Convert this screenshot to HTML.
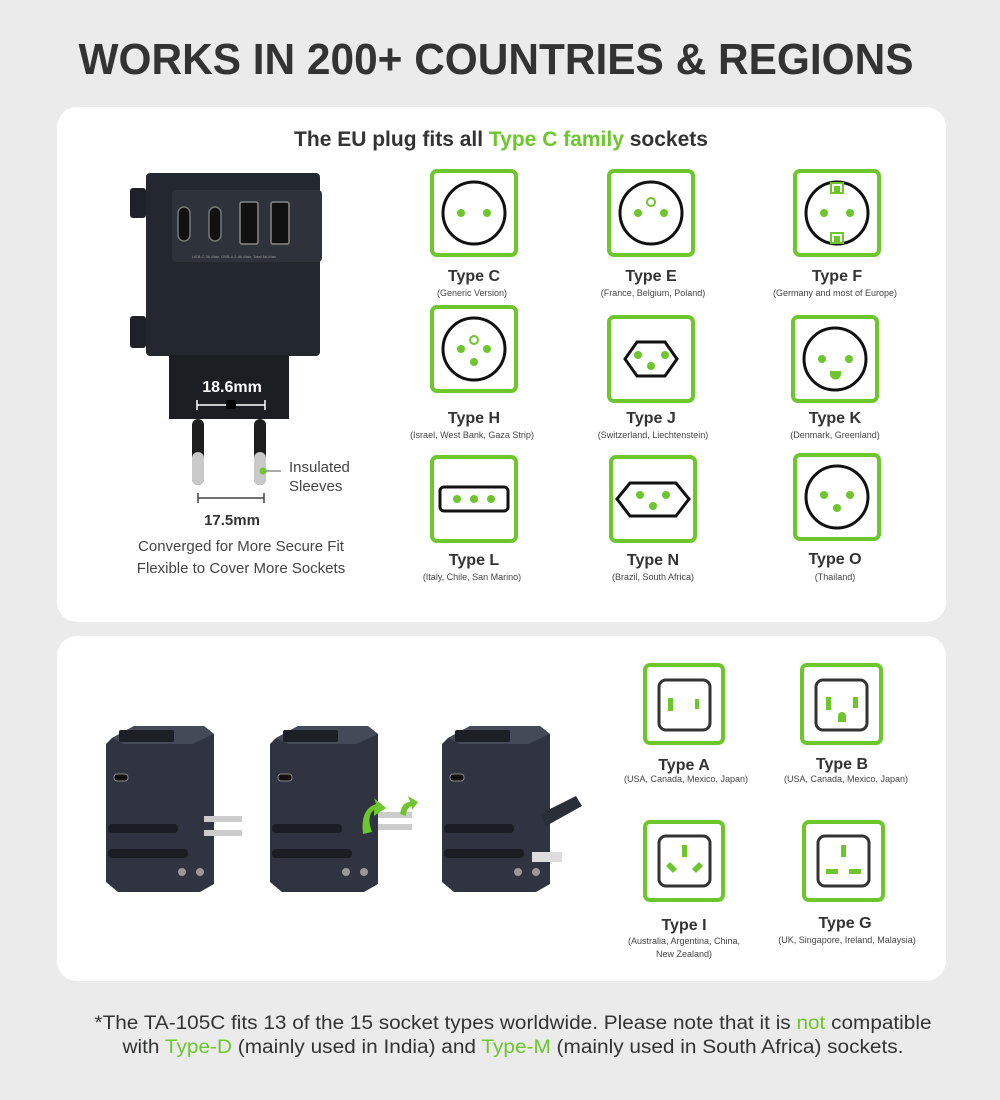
<!DOCTYPE html>
<html><head><meta charset="utf-8"><style>
html,body{margin:0;padding:0;background:#ebebeb;}
svg{display:block}
text{font-family:"Liberation Sans",sans-serif;}
</style></head><body>
<svg width="1000" height="1100" viewBox="0 0 1000 1100" xmlns="http://www.w3.org/2000/svg">
<rect width="1000" height="1100" fill="#ebebeb"/>
<text x="496" y="74" text-anchor="middle" font-size="44" font-weight="bold" fill="#333" textLength="835" lengthAdjust="spacingAndGlyphs">WORKS IN 200+ COUNTRIES &amp; REGIONS</text>
<rect x="57" y="107" width="889" height="515" rx="20" fill="#fff"/>
<rect x="57" y="636" width="889" height="345" rx="20" fill="#fff"/>
<text x="501" y="146" text-anchor="middle" font-size="21" font-weight="bold" fill="#333">The EU plug fits all <tspan fill="#6cc62c">Type C family</tspan> sockets</text>

<!-- EU charger -->
<g>
<rect x="130" y="188" width="16" height="30" rx="3" fill="#1e2228"/>
<rect x="130" y="316" width="16" height="32" rx="3" fill="#1e2228"/>
<rect x="146" y="173" width="174" height="183" rx="4" fill="#23272e"/>
<rect x="172" y="190" width="150" height="72" rx="4" fill="#2e333b"/>
<rect x="178" y="207" width="12" height="34" rx="6" fill="#111" stroke="#777" stroke-width="1.5"/>
<rect x="209" y="207" width="12" height="34" rx="6" fill="#111" stroke="#777" stroke-width="1.5"/>
<rect x="240" y="202" width="18" height="42" rx="2" fill="#111" stroke="#888" stroke-width="1.5"/>
<rect x="271" y="202" width="18" height="42" rx="2" fill="#111" stroke="#888" stroke-width="1.5"/>
<text x="234" y="258" text-anchor="middle" font-size="4" fill="#999">USB-C 3A Max, USB-A 2.4A Max, Total 6A Max</text>
<rect x="169" y="355" width="120" height="64" fill="#1b1e23"/>
<text x="232" y="392" text-anchor="middle" font-size="16" font-weight="bold" fill="#fff">18.6mm</text>
<path d="M197 405H265M197 400V410M265 400V410" stroke="#fff" stroke-width="1.5"/>
<rect x="226" y="400" width="10" height="9" rx="2" fill="#000"/>
<rect x="192" y="419" width="12" height="66" rx="6" fill="#1e1e1e"/>
<rect x="192" y="452" width="12" height="33" rx="6" fill="#c9c9c9"/>
<rect x="254" y="419" width="12" height="66" rx="6" fill="#1e1e1e"/>
<rect x="254" y="452" width="12" height="33" rx="6" fill="#c9c9c9"/>
<circle cx="263" cy="471" r="3.5" fill="#6cc62c"/>
<path d="M266 471H281" stroke="#555" stroke-width="1"/>
<text x="289" y="472" font-size="15" fill="#444">Insulated</text>
<text x="289" y="491" font-size="15" fill="#444">Sleeves</text>
<path d="M198 498H264M198 493V503M264 493V503" stroke="#444" stroke-width="1.5"/>
<text x="232" y="525" text-anchor="middle" font-size="15" font-weight="bold" fill="#333">17.5mm</text>
<text x="241" y="551" text-anchor="middle" font-size="15" fill="#444">Converged for More Secure Fit</text>
<text x="241" y="573" text-anchor="middle" font-size="15" fill="#444">Flexible to Cover More Sockets</text>
</g>

<g stroke="#6cc62c" stroke-width="4" fill="#fff">
<rect x="432" y="171" width="84" height="84" rx="5"/>
<rect x="609" y="171" width="84" height="84" rx="5"/>
<rect x="795" y="171" width="84" height="84" rx="5"/>
<rect x="432" y="307" width="84" height="84" rx="5"/>
<rect x="609" y="317" width="84" height="84" rx="5"/>
<rect x="793" y="317" width="84" height="84" rx="5"/>
<rect x="432" y="457" width="84" height="84" rx="5"/>
<rect x="611" y="457" width="84" height="84" rx="5"/>
<rect x="795" y="455" width="84" height="84" rx="5"/>
<rect x="645" y="665" width="78" height="78" rx="5"/>
<rect x="802" y="665" width="79" height="78" rx="5"/>
<rect x="645" y="822" width="78" height="78" rx="5"/>
<rect x="804" y="822" width="79" height="78" rx="5"/>
</g>
<g stroke="#111" stroke-width="3" fill="none">
<circle cx="474" cy="213" r="31"/>
<circle cx="651" cy="213" r="31"/>
<circle cx="837" cy="213" r="31"/>
<circle cx="474" cy="349" r="31"/>
<path d="M625 359L637 342H665L677 359L665 376H637Z"/>
<circle cx="835" cy="359" r="31"/>
<rect x="440" y="487" width="68" height="24" rx="4"/>
<path d="M617 499L630 483H676L689 499L676 516H630Z"/>
<circle cx="837" cy="497" r="31"/>
</g>
<g stroke="#333" stroke-width="3" fill="none">
<rect x="659" y="680" width="51" height="50" rx="7"/>
<rect x="816" y="680" width="51" height="50" rx="7"/>
<rect x="659" y="836" width="51" height="50" rx="7"/>
<rect x="818" y="836" width="51" height="50" rx="7"/>
</g>
<g fill="#6cc62c">
<circle cx="461" cy="213" r="4"/><circle cx="487" cy="213" r="4"/>
<circle cx="638" cy="213" r="4"/><circle cx="664" cy="213" r="4"/>
<circle cx="824" cy="213" r="4"/><circle cx="850" cy="213" r="4"/>
<circle cx="461" cy="349" r="4"/><circle cx="487" cy="349" r="4"/><circle cx="474" cy="362" r="4"/>
<circle cx="638" cy="355" r="4"/><circle cx="665" cy="355" r="4"/><circle cx="651" cy="366" r="4"/>
<circle cx="822" cy="359" r="4"/><circle cx="849" cy="359" r="4"/>
<path d="M830 371H841V374A5.5 5.5 0 0 1 830 374Z"/>
<circle cx="457" cy="499" r="4"/><circle cx="474" cy="499" r="4"/><circle cx="491" cy="499" r="4"/>
<circle cx="640" cy="495" r="4"/><circle cx="666" cy="495" r="4"/><circle cx="653" cy="506" r="4"/>
<circle cx="824" cy="495" r="4"/><circle cx="850" cy="495" r="4"/><circle cx="837" cy="508" r="4"/>
<rect x="668" y="698" width="5" height="13"/><rect x="695" y="699" width="4" height="10"/>
<rect x="826" y="697" width="5" height="13"/><rect x="853" y="697" width="5" height="11"/>
<path d="M838 722H846V716A4 4 0 0 0 838 716Z"/>
<rect x="682" y="845" width="5" height="12"/>
<path d="M666 866l4-4 7 7-4 4Z"/><path d="M703 866l-4-4-7 7 4 4Z"/>
<rect x="841" y="845" width="5" height="12"/>
<rect x="826" y="869" width="12" height="5"/><rect x="849" y="869" width="12" height="5"/>
</g>
<g fill="#fff" stroke="#6cc62c" stroke-width="2">
<rect x="831" y="183" width="12" height="10"/><rect x="831" y="233" width="12" height="10"/>
</g>
<g fill="#6cc62c"><rect x="834" y="186" width="6" height="6"/><rect x="834" y="236" width="6" height="6"/></g>
<circle cx="651" cy="202" r="4" fill="#fff" stroke="#6cc62c" stroke-width="2"/>
<circle cx="474" cy="340" r="4" fill="#fff" stroke="#6cc62c" stroke-width="2"/>

<g font-size="16" font-weight="bold" fill="#333" text-anchor="middle">
<text x="474" y="281">Type C</text><text x="651" y="281">Type E</text><text x="837" y="281">Type F</text>
<text x="474" y="423">Type H</text><text x="651" y="423">Type J</text><text x="835" y="423">Type K</text>
<text x="474" y="565">Type L</text><text x="653" y="565">Type N</text><text x="835" y="564">Type O</text>
<text x="684" y="770">Type A</text><text x="842" y="769">Type B</text>
<text x="684" y="930">Type I</text><text x="845" y="928">Type G</text>
</g>
<g font-size="9" fill="#444" text-anchor="middle">
<text x="472" y="296">(Generic Version)</text><text x="653" y="296">(France, Belgium, Poland)</text><text x="835" y="296">(Germany and most of Europe)</text>
<text x="472" y="438">(Israel, West Bank, Gaza Strip)</text><text x="653" y="438">(Switzerland, Liechtenstein)</text><text x="835" y="438">(Denmark, Greenland)</text>
<text x="472" y="580">(Italy, Chile, San Marino)</text><text x="653" y="580">(Brazil, South Africa)</text><text x="835" y="580">(Thailand)</text>
<text x="686" y="782">(USA,  Canada,  Mexico,  Japan)</text><text x="846" y="782">(USA,  Canada,  Mexico,  Japan)</text>
<text x="684" y="944">(Australia, Argentina, China,</text><text x="684" y="957">New Zealand)</text><text x="847" y="943">(UK, Singapore, Ireland, Malaysia)</text>
</g>

<!-- travel adapters -->
<g>
<g transform="translate(104,724)">
<path d="M8 14L30 2H100L110 10V160L96 168H14L2 158V20Z" fill="#2f3440"/>
<path d="M8 14L30 2H100L110 10L88 20H20Z" fill="#444a58"/>
<rect x="15" y="6" width="55" height="12" rx="2" fill="#1c1f26"/>
<rect x="10" y="50" width="14" height="7" rx="3" fill="#111" stroke="#888"/>
<rect x="4" y="100" width="70" height="9" rx="4" fill="#1a1d23"/>
<rect x="4" y="125" width="80" height="9" rx="4" fill="#1a1d23"/>
<rect x="100" y="92" width="38" height="6" fill="#ccc"/><rect x="100" y="106" width="38" height="6" fill="#ccc"/>
<circle cx="78" cy="148" r="4" fill="#999"/><circle cx="96" cy="148" r="4" fill="#999"/>
</g>
<g transform="translate(268,724)">
<path d="M8 14L30 2H100L110 10V160L96 168H14L2 158V20Z" fill="#2f3440"/>
<path d="M8 14L30 2H100L110 10L88 20H20Z" fill="#444a58"/>
<rect x="15" y="6" width="55" height="12" rx="2" fill="#1c1f26"/>
<rect x="10" y="50" width="14" height="7" rx="3" fill="#111" stroke="#888"/>
<rect x="4" y="100" width="70" height="9" rx="4" fill="#1a1d23"/>
<rect x="4" y="125" width="80" height="9" rx="4" fill="#1a1d23"/>
<rect x="110" y="88" width="34" height="6" fill="#ccc"/><rect x="110" y="100" width="34" height="6" fill="#ccc"/>
<path d="M95 110Q92 85 108 80L106 74L118 84L106 92L106 86Q98 92 104 108Z" fill="#6cc62c"/>
<path d="M132 90Q134 78 142 78L140 72L150 78L144 86V82Q138 84 138 92Z" fill="#6cc62c"/>
<circle cx="78" cy="148" r="4" fill="#999"/><circle cx="96" cy="148" r="4" fill="#999"/>
</g>
<g transform="translate(440,724)">
<path d="M8 14L30 2H100L110 10V160L96 168H14L2 158V20Z" fill="#2f3440"/>
<path d="M8 14L30 2H100L110 10L88 20H20Z" fill="#444a58"/>
<rect x="15" y="6" width="55" height="12" rx="2" fill="#1c1f26"/>
<rect x="10" y="50" width="14" height="7" rx="3" fill="#111" stroke="#888"/>
<rect x="4" y="100" width="70" height="9" rx="4" fill="#1a1d23"/>
<rect x="4" y="125" width="80" height="9" rx="4" fill="#1a1d23"/>
<path d="M100 90L136 72L142 82L106 102Z" fill="#2a2e36"/>
<rect x="92" y="128" width="30" height="10" fill="#ddd"/>
<circle cx="78" cy="148" r="4" fill="#999"/><circle cx="96" cy="148" r="4" fill="#999"/>
</g>
</g>

<text x="513" y="1029" text-anchor="middle" font-size="19" fill="#333" textLength="837" lengthAdjust="spacingAndGlyphs">*The TA-105C fits 13 of the 15 socket types worldwide. Please note that it is <tspan fill="#6cc62c">not</tspan> compatible</text>
<text x="513" y="1053" text-anchor="middle" font-size="19" fill="#333" textLength="781" lengthAdjust="spacingAndGlyphs">with <tspan fill="#6cc62c">Type-D</tspan> (mainly used in India) and <tspan fill="#6cc62c">Type-M</tspan> (mainly used in South Africa) sockets.</text>
</svg>
</body></html>
